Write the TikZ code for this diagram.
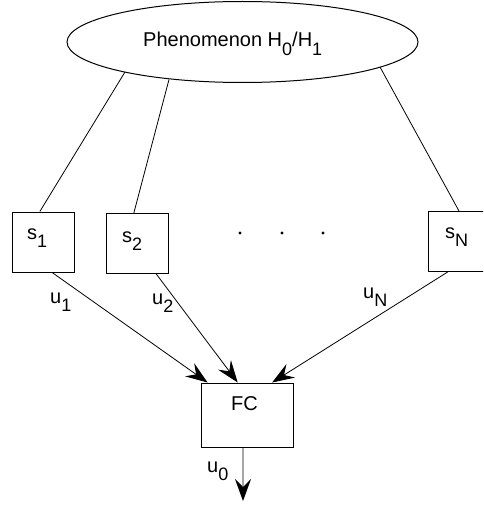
\documentclass[tikz,border=0pt]{standalone}
\usepackage{fontspec}
\setmainfont{Liberation Sans}
\usetikzlibrary{arrows.meta,shapes.geometric,calc}
% lowered index, as in s_1 or H_0
\newcommand\lowidx[1]{\raisebox{-8.5pt}{\fontsize{18}{18}\selectfont #1}}
\tikzset{
  sensorbox/.style={draw, line width=1pt, rectangle, minimum width=62pt, minimum height=60pt, inner sep=0pt},
  fcbox/.style={draw, line width=1pt, rectangle, minimum width=92pt, minimum height=64pt, inner sep=0pt},
  txt/.style={anchor=base west, inner sep=0pt, font=\fontsize{20}{20}\selectfont},
  link/.style={line width=0.8pt},
  feed/.style={line width=0.8pt, -{Stealth[length=22pt, width=16pt, inset=8pt]}},
}
\begin{document}
\begin{tikzpicture}[x=1pt, y=-1pt]
  \useasboundingbox (0,0) rectangle (483,508);
  \begin{scope}
    \clip (0,0) rectangle (483,508);

    % phenomenon
    \node[draw, line width=1pt, ellipse, minimum width=351pt, minimum height=81pt, inner sep=0pt] (ph) at (242.5,42) {};
    \node[txt] (phtxt) at (143,47) {Phenomenon H\lowidx{0}/H\lowidx{1}};
    \coordinate (e1) at (125,72);
    \coordinate (e2) at (169,79.5);
    \coordinate (e3) at (380,67);

    % sensors
    \node[sensorbox] (s1) at (43,242) {};
    \node[sensorbox] (s2) at (137,243.5) {};
    \node[sensorbox] (sN) at (459,241.5) {};
    \node[txt] (s1txt) at (27,239) {s\lowidx{1}};
    \node[txt] (s2txt) at (122,242) {s\lowidx{2}};
    \node[txt] (sNtxt) at (445,238) {s\lowidx{N}};

    % dots between sensors
    \fill (240,233) circle (1.6pt);
    \fill (282,233) circle (1.6pt);
    \fill (323,233) circle (1.6pt);

    % fusion center
    \node[fcbox] (fc) at (247,415) {};
    \node[txt] (fctxt) at (231,410) {FC};
    \coordinate (out) at (243,501);

    % observation links
    \draw[link] (e1) -- ($(s1.north west)!0.45!(s1.north east)$);
    \draw[link] (e2) -- ($(s2.north west)!0.45!(s2.north east)$);
    \draw[link] (e3) -- (sN.north);

    % local decisions
    \draw[feed] ($(s1.south west)!0.645!(s1.south east)$) -- ($(fc.north west)!0.076!(fc.north east)$);
    \draw[feed] ($(s2.south west)!0.806!(s2.south east)$) -- ($(fc.north west)!0.40!(fc.north east)$);
    \draw[feed] ($(sN.south west)!0.32!(sN.south east)$) -- ($(fc.north west)!0.77!(fc.north east)$);
    \draw[feed] ($(fc.south west)!0.457!(fc.south east)$) -- (out);

    \node[txt] (u1) at (50,303) {u\lowidx{1}};
    \node[txt] (u2) at (152,304) {u\lowidx{2}};
    \node[txt] (uN) at (363,298) {u\lowidx{N}};
    \node[txt] (u0) at (207,472) {u\lowidx{0}};
  \end{scope}
\end{tikzpicture}
\end{document}
